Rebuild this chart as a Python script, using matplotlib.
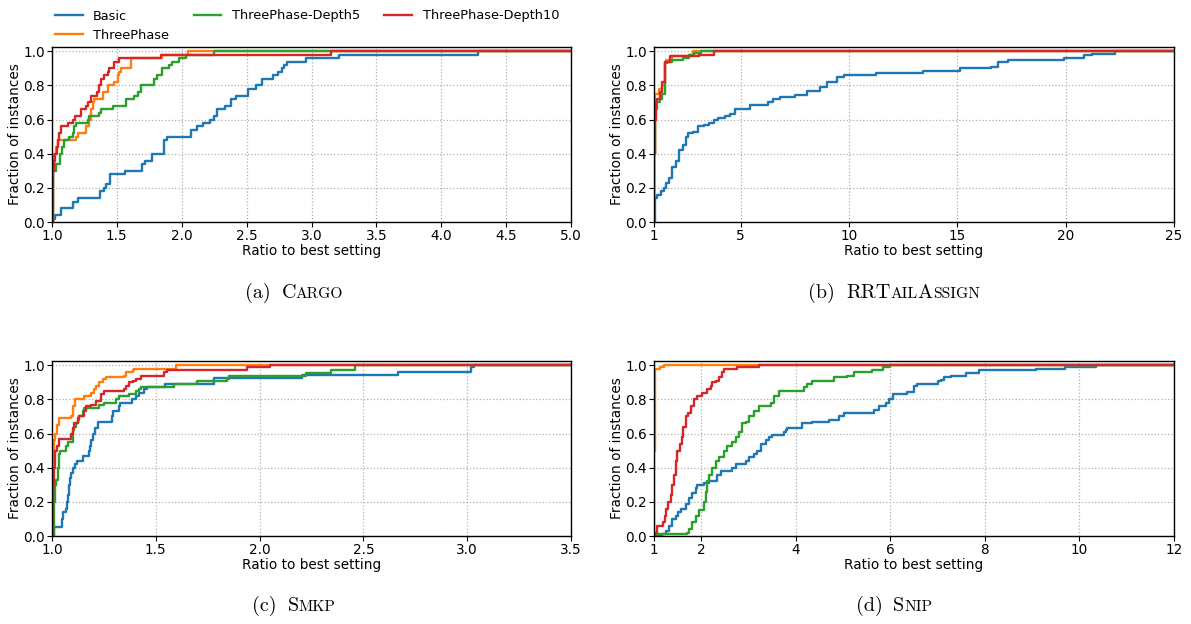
import numpy as np
import matplotlib
matplotlib.use("Agg")
import matplotlib.pyplot as plt

# series labels / colours
labels = ["Basic", "ThreePhase", "ThreePhase-Depth5", "ThreePhase-Depth10"]
colors = ["#1f77b4", "#ff7f0e", "#2ca02c", "#d62728"]

# performance profiles, (ratio, fraction) at each step
cargo_basic = [(1.0, 0.0), (1.01, 0.02), (1.02, 0.04), (1.07, 0.08), (1.16, 0.12), (1.20, 0.14),
               (1.37, 0.18), (1.40, 0.20), (1.42, 0.22), (1.45, 0.28), (1.56, 0.30), (1.69, 0.34),
               (1.72, 0.36), (1.77, 0.40), (1.86, 0.48), (1.89, 0.50), (2.07, 0.54), (2.12, 0.56),
               (2.16, 0.58), (2.22, 0.60), (2.25, 0.62), (2.27, 0.66), (2.33, 0.68), (2.38, 0.72),
               (2.42, 0.74), (2.51, 0.78), (2.57, 0.80), (2.62, 0.84), (2.70, 0.86), (2.74, 0.88),
               (2.77, 0.90), (2.79, 0.92), (2.81, 0.94), (2.96, 0.96), (3.21, 0.98), (4.28, 1.0)]
cargo_threephase = [(1.0, 0.0), (1.005, 0.34), (1.018, 0.40), (1.03, 0.44), (1.044, 0.48), (1.185, 0.50),
                    (1.197, 0.52), (1.26, 0.56), (1.287, 0.60), (1.30, 0.66), (1.313, 0.70), (1.326, 0.72),
                    (1.39, 0.76), (1.428, 0.80), (1.48, 0.82), (1.505, 0.86), (1.518, 0.88), (1.53, 0.90),
                    (1.608, 0.96), (1.85, 0.98), (2.05, 1.0)]
cargo_depth5 = [(1.0, 0.0), (1.005, 0.30), (1.03, 0.34), (1.06, 0.40), (1.08, 0.44), (1.095, 0.48),
                (1.133, 0.50), (1.159, 0.52), (1.17, 0.56), (1.185, 0.58), (1.274, 0.60), (1.287, 0.62),
                (1.364, 0.64), (1.377, 0.66), (1.467, 0.68), (1.57, 0.72), (1.633, 0.74), (1.659, 0.76),
                (1.685, 0.80), (1.787, 0.84), (1.813, 0.86), (1.851, 0.90), (1.90, 0.92), (1.928, 0.94),
                (1.98, 0.96), (2.03, 0.98), (2.25, 1.0)]
cargo_depth10 = [(1.0, 0.0), (1.005, 0.30), (1.018, 0.36), (1.026, 0.40), (1.036, 0.44), (1.044, 0.48),
                 (1.056, 0.52), (1.069, 0.56), (1.12, 0.58), (1.159, 0.60), (1.18, 0.62), (1.223, 0.66),
                 (1.26, 0.68), (1.28, 0.70), (1.30, 0.74), (1.344, 0.76), (1.364, 0.80), (1.377, 0.84),
                 (1.403, 0.86), (1.428, 0.88), (1.441, 0.90), (1.48, 0.94), (1.518, 0.96), (1.838, 0.98),
                 (3.15, 1.0)]

rrtail_basic = [(1.0, 0.0), (1.03, 0.14), (1.155, 0.16), (1.31, 0.18), (1.465, 0.20), (1.54, 0.23),
                (1.70, 0.26), (1.85, 0.32), (2.01, 0.36), (2.16, 0.42), (2.32, 0.45), (2.47, 0.50),
                (2.55, 0.52), (2.78, 0.53), (3.02, 0.56), (3.33, 0.57), (3.56, 0.58), (3.79, 0.60),
                (3.95, 0.61), (4.26, 0.62), (4.49, 0.63), (4.72, 0.66), (5.42, 0.685), (6.27, 0.70),
                (6.50, 0.72), (6.81, 0.73), (7.51, 0.745), (8.05, 0.77), (8.67, 0.79), (8.98, 0.82),
                (9.45, 0.85), (9.77, 0.86), (11.23, 0.875), (13.43, 0.885), (15.12, 0.90), (16.56, 0.91),
                (16.87, 0.935), (17.33, 0.95), (19.91, 0.963), (20.83, 0.977), (21.23, 0.986), (22.27, 1.0)]
rrtail_threephase = [(1.0, 0.0), (1.02, 0.40), (1.05, 0.75), (1.23, 0.78), (1.36, 0.80), (1.51, 0.94),
                     (1.54, 0.95), (1.85, 0.97), (2.62, 0.98), (2.78, 1.0)]
rrtail_depth5 = [(1.0, 0.0), (1.02, 0.40), (1.05, 0.66), (1.155, 0.70), (1.26, 0.72), (1.39, 0.75),
                 (1.51, 0.93), (1.62, 0.94), (1.85, 0.95), (2.32, 0.96), (2.62, 0.98), (2.86, 0.99),
                 (3.17, 1.0)]
rrtail_depth10 = [(1.0, 0.0), (1.02, 0.40), (1.04, 0.60), (1.10, 0.70), (1.155, 0.72), (1.26, 0.76),
                  (1.39, 0.82), (1.51, 0.94), (1.73, 0.97), (3.09, 0.98), (3.79, 1.0)]

smkp_basic = [(1.0, 0.0), (1.011, 0.05), (1.048, 0.10), (1.051, 0.14), (1.067, 0.16), (1.07, 0.20),
              (1.075, 0.24), (1.08, 0.30), (1.087, 0.34), (1.091, 0.37), (1.10, 0.40), (1.112, 0.42),
              (1.119, 0.44), (1.147, 0.47), (1.179, 0.50), (1.183, 0.53), (1.187, 0.56), (1.196, 0.60),
              (1.208, 0.63), (1.22, 0.67), (1.288, 0.70), (1.295, 0.73), (1.324, 0.76), (1.329, 0.78),
              (1.385, 0.80), (1.404, 0.82), (1.42, 0.84), (1.444, 0.86), (1.46, 0.87), (1.545, 0.89),
              (1.78, 0.926), (2.205, 0.945), (2.666, 0.96), (3.02, 0.99), (3.035, 1.0)]
smkp_threephase = [(1.0, 0.0), (1.003, 0.50), (1.011, 0.56), (1.016, 0.60), (1.022, 0.65), (1.035, 0.69),
                   (1.091, 0.70), (1.10, 0.72), (1.103, 0.76), (1.112, 0.80), (1.155, 0.82), (1.187, 0.84),
                   (1.204, 0.86), (1.212, 0.88), (1.228, 0.90), (1.244, 0.92), (1.26, 0.93), (1.348, 0.94),
                   (1.356, 0.96), (1.388, 0.97), (1.396, 0.98), (1.596, 1.0)]
smkp_depth5 = [(1.0, 0.0), (1.011, 0.20), (1.016, 0.30), (1.019, 0.33), (1.027, 0.40), (1.032, 0.48),
               (1.038, 0.50), (1.067, 0.53), (1.075, 0.55), (1.10, 0.58), (1.103, 0.62), (1.107, 0.64),
               (1.115, 0.66), (1.123, 0.68), (1.131, 0.70), (1.147, 0.73), (1.155, 0.75), (1.228, 0.77),
               (1.252, 0.78), (1.308, 0.80), (1.324, 0.82), (1.372, 0.83), (1.404, 0.85), (1.42, 0.86),
               (1.428, 0.87), (1.588, 0.89), (1.70, 0.91), (1.845, 0.92), (1.853, 0.94), (2.223, 0.955),
               (2.344, 0.975), (2.461, 1.0)]
smkp_depth10 = [(1.0, 0.0), (1.003, 0.30), (1.011, 0.40), (1.016, 0.50), (1.022, 0.53), (1.035, 0.57),
                (1.091, 0.60), (1.10, 0.63), (1.107, 0.66), (1.123, 0.69), (1.131, 0.70), (1.155, 0.73),
                (1.163, 0.76), (1.187, 0.77), (1.212, 0.79), (1.236, 0.83), (1.252, 0.85), (1.348, 0.86),
                (1.356, 0.88), (1.372, 0.90), (1.388, 0.91), (1.404, 0.92), (1.428, 0.94), (1.54, 0.96),
                (1.556, 0.97), (1.94, 0.99), (2.05, 1.0)]

snip_basic = [(1.0, 0.0), (1.176, 0.01), (1.247, 0.03), (1.318, 0.06), (1.388, 0.10), (1.459, 0.12),
              (1.515, 0.14), (1.565, 0.16), (1.67, 0.19), (1.741, 0.22), (1.81, 0.25), (1.88, 0.28),
              (1.917, 0.30), (2.06, 0.31), (2.164, 0.32), (2.341, 0.36), (2.41, 0.38), (2.658, 0.40),
              (2.729, 0.42), (2.94, 0.44), (3.01, 0.46), (3.117, 0.48), (3.188, 0.50), (3.258, 0.54),
              (3.364, 0.56), (3.435, 0.58), (3.505, 0.59), (3.752, 0.61), (3.788, 0.62), (3.823, 0.63),
              (4.14, 0.66), (4.352, 0.67), (4.705, 0.68), (4.917, 0.70), (5.023, 0.72), (5.658, 0.74),
              (5.764, 0.76), (5.905, 0.78), (5.975, 0.80), (6.046, 0.83), (6.36, 0.845), (6.50, 0.88),
              (6.57, 0.89), (7.016, 0.905), (7.065, 0.915), (7.136, 0.93), (7.28, 0.94), (7.60, 0.955),
              (7.88, 0.97), (9.08, 0.98), (9.685, 0.99), (10.36, 1.0)]
snip_threephase = [(1.0, 0.0), (1.005, 0.50), (1.02, 0.98), (1.12, 0.99), (1.21, 1.0)]
snip_depth5 = [(1.0, 0.0), (1.02, 0.01), (1.706, 0.02), (1.741, 0.04), (1.81, 0.08), (1.88, 0.12),
               (1.953, 0.15), (2.06, 0.20), (2.094, 0.26), (2.13, 0.32), (2.164, 0.36), (2.235, 0.40),
               (2.306, 0.44), (2.376, 0.46), (2.482, 0.50), (2.553, 0.53), (2.658, 0.55), (2.729, 0.58),
               (2.80, 0.61), (2.87, 0.66), (2.94, 0.67), (3.01, 0.70), (3.117, 0.73), (3.223, 0.76),
               (3.47, 0.78), (3.54, 0.82), (3.646, 0.85), (4.176, 0.87), (4.246, 0.89), (4.352, 0.91),
               (4.81, 0.93), (5.093, 0.94), (5.234, 0.96), (5.622, 0.97), (5.834, 0.99), (6.0, 1.0)]
snip_depth10 = [(1.0, 0.0), (1.02, 0.02), (1.07, 0.06), (1.19, 0.08), (1.233, 0.12), (1.26, 0.16),
                (1.30, 0.20), (1.353, 0.24), (1.39, 0.30), (1.42, 0.36), (1.46, 0.44), (1.49, 0.50),
                (1.54, 0.54), (1.586, 0.58), (1.614, 0.64), (1.67, 0.70), (1.727, 0.72), (1.776, 0.76),
                (1.847, 0.80), (1.917, 0.82), (2.023, 0.84), (2.13, 0.86), (2.20, 0.88), (2.235, 0.90),
                (2.306, 0.91), (2.376, 0.93), (2.447, 0.96), (2.48, 0.98), (2.764, 0.99), (3.22, 1.0)]

# axis ranges and ticks per panel
cargo_xticks = [1.0, 1.5, 2.0, 2.5, 3.0, 3.5, 4.0, 4.5, 5.0]
rrtail_xticks = [1, 5, 10, 15, 20, 25]
smkp_xticks = [1.0, 1.5, 2.0, 2.5, 3.0, 3.5]
snip_xticks = [1, 2, 4, 6, 8, 10, 12]
yticks = [0.0, 0.2, 0.4, 0.6, 0.8, 1.0]

# caption pieces: (text, big?) -> fake small caps
cap_a = [("(a)", True), (None, None), ("C", True), ("ARGO", False)]
cap_b = [("(b)", True), (None, None), ("RRT", True), ("AIL", False), ("A", True), ("SSIGN", False)]
cap_c = [("(c)", True), (None, None), ("S", True), ("MKP", False)]
cap_d = [("(d)", True), (None, None), ("S", True), ("NIP", False)]

W, H = 1191, 624
fig = plt.figure(figsize=(W / 100, H / 100), dpi=100)

FS = 9.8
plt.rcParams["font.family"] = "DejaVu Sans"


def draw_panel(rect, series, xticks):
    ax = fig.add_axes([rect[0] / W, 1 - rect[3] / H, (rect[2] - rect[0]) / W, (rect[3] - rect[1]) / H])
    xmax = xticks[-1]
    for pts, c, lab in zip(series, colors, labels):
        xs = [p[0] for p in pts] + [xmax]
        ys = [p[1] for p in pts] + [pts[-1][1]]
        ax.plot(xs, ys, drawstyle="steps-post", color=c, lw=1.7, label=lab)
    ax.set_xlim(xticks[0], xmax)
    ax.set_ylim(0, 1.025)
    ax.set_xticks(xticks)
    ax.set_yticks(yticks)
    ax.grid(True, ls=":", color="#b0b0b0", lw=0.9)
    ax.tick_params(labelsize=FS, length=3.5, width=0.8, pad=1.5)
    ax.set_xlabel("Ratio to best setting", fontsize=FS, labelpad=0.5)
    ax.set_ylabel("Fraction of instances", fontsize=FS, labelpad=1)
    for s in ax.spines.values():
        s.set_color("black")
        s.set_linewidth(1.0)
    return ax


ax_a = draw_panel((52, 47, 571, 222), [cargo_basic, cargo_threephase, cargo_depth5, cargo_depth10], cargo_xticks)
ax_b = draw_panel((654, 47, 1174, 222), [rrtail_basic, rrtail_threephase, rrtail_depth5, rrtail_depth10], rrtail_xticks)
ax_c = draw_panel((52, 361, 571, 536), [smkp_basic, smkp_threephase, smkp_depth5, smkp_depth10], smkp_xticks)
ax_d = draw_panel((654, 361, 1174, 536), [snip_basic, snip_threephase, snip_depth5, snip_depth10], snip_xticks)

h, l = ax_a.get_legend_handles_labels()
fig.legend(h, l, loc="upper left", bbox_to_anchor=(55 / W, 1 - 9.5 / H), ncol=3, frameon=False,
           fontsize=9.3, borderpad=0, borderaxespad=0, labelspacing=0.5, columnspacing=1.9,
           handlelength=2.15, handletextpad=0.8)

# captions in Computer Modern with fake small caps
captions = [(cap_a, 294, 298), (cap_b, 894, 298), (cap_c, 294, 611), (cap_d, 894, 611)]
cap_texts = []
for parts, xc, yb in captions:
    items = []
    for s, big in parts:
        if s is None:
            items.append(None)
            continue
        t = fig.text(0, 1 - yb / H, s, fontsize=14.5 if big else 11.2, family="cmr10",
                     va="baseline", ha="left")
        items.append(t)
    cap_texts.append((items, xc))

fig.canvas.draw()
r = fig.canvas.get_renderer()
gap = 11
for items, xc in cap_texts:
    widths = [gap if t is None else t.get_window_extent(r).width for t in items]
    x = xc - sum(widths) / 2
    for t, w in zip(items, widths):
        if t is not None:
            t.set_x(x / W)
        x += w

fig.savefig("out.png", dpi=100)
